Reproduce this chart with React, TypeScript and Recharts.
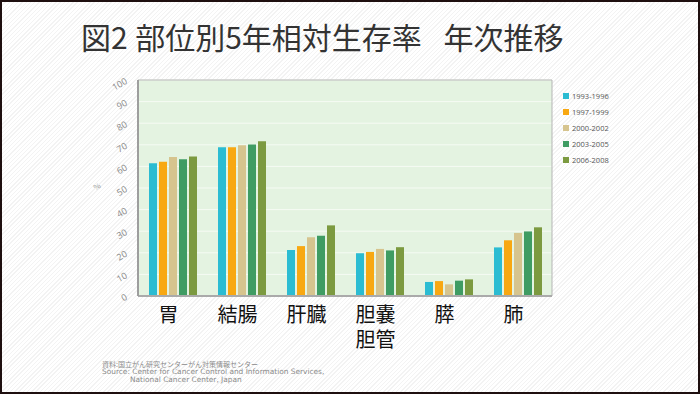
import React from "react";
import { BarChart, Bar, XAxis, YAxis, CartesianGrid, ReferenceArea } from "recharts";

const categories = ["胃", "結腸", "肝臓", "胆嚢\n胆管", "膵", "肺"];
const periods = ["1993-1996", "1997-1999", "2000-2002", "2003-2005", "2006-2008"];
const colors = ["#2bbcd2", "#f8a812", "#d6c48e", "#3f9c63", "#7c9a40"];
const v1993 = [61.5, 68.9, 21.3, 19.8, 6.5, 22.5];
const v1997 = [62.2, 68.9, 23.1, 20.4, 6.9, 25.8];
const v2000 = [64.3, 69.8, 27.2, 21.8, 5.4, 29.2];
const v2003 = [63.3, 70.1, 27.9, 21.1, 7.1, 29.9];
const v2006 = [64.6, 71.6, 32.7, 22.6, 7.7, 31.8];
const yTicks = [0, 10, 20, 30, 40, 50, 60, 70, 80, 90, 100];
const titleText = "図2\u2005部位別5年相対生存率\u2002 年次推移";
const sourceLines = [
  "資料:国立がん研究センターがん対策情報センター",
  "Source: Center for Cancer Control and Information Services,",
  "National Cancer Center, Japan",
];

const series = [v1993, v1997, v2000, v2003, v2006];
const data = categories.map((c, i) => {
  const row: Record<string, string | number> = { name: c };
  periods.forEach((p, k) => {
    row[p] = series[k][i];
  });
  return row;
});

const CJK = '"Noto Sans CJK JP", "Noto Sans", sans-serif';

const XTick = (props: any) => {
  const { x, y, payload } = props;
  const lines = String(payload.value).split("\n");
  return (
    <g>
      {lines.map((l, i) => (
        <text
          key={i}
          x={x - 4}
          y={y + 26 + i * 25}
          textAnchor="middle"
          fontSize={20}
          fontFamily={CJK}
          fill="#111"
        >
          {l}
        </text>
      ))}
    </g>
  );
};

const YTick = (props: any) => {
  const { x, y, payload } = props;
  const ax = x - 2;
  const ay = y + 3;
  return (
    <text
      x={ax}
      y={ay}
      textAnchor="end"
      fontSize={9}
      fontFamily='"Open Sans", "Noto Sans", sans-serif'
      fill="#888"
      transform={`rotate(-30 ${ax} ${ay})`}
    >
      {payload.value}
    </text>
  );
};

const sourceLeft = [102, 102, 130];

export default function App() {
  return (
    <div
      style={{
        position: "absolute",
        left: 0,
        top: 0,
        width: 700,
        height: 394,
        boxSizing: "border-box",
        border: "2px solid #1e0f0f",
        background:
          "repeating-linear-gradient(135deg, #ffffff 0px, #ffffff 2px, #f3f3f3 2px, #f3f3f3 3px)",
        overflow: "hidden",
      }}
    >
      <div
        style={{
          position: "absolute",
          left: 79,
          top: 19,
          fontSize: 30,
          lineHeight: 1,
          fontFamily: CJK,
          color: "#333",
          whiteSpace: "pre",
        }}
      >
        {titleText}
      </div>
      <div style={{ position: "absolute", left: -2, top: -2 }}>
        <BarChart
          width={700}
          height={394}
          data={data}
          margin={{ top: 80, right: 148, bottom: 0, left: 0 }}
          barGap={2}
          barSize={8}
        >
          <CartesianGrid
            vertical={false}
            horizontal
            stroke="#f6fbf4"
            strokeWidth={1}
            fill="#e4f3e1"
            fillOpacity={1}
          />
          <ReferenceArea y1={0} y2={100} fill="none" stroke="#b5b5b5" strokeWidth={1} ifOverflow="visible" />
          <XAxis
            dataKey="name"
            height={98}
            tickSize={0}
            tickMargin={0}
            tick={<XTick />}
            interval={0}
            axisLine={{ stroke: "#aaa", strokeWidth: 2 }}
            tickLine={false}
          />
          <YAxis
            width={138}
            domain={[0, 100]}
            ticks={yTicks}
            interval={0}
            tickSize={6}
            tickMargin={2}
            tick={<YTick />}
            axisLine={{ stroke: "#9e9e9e", strokeWidth: 2 }}
            tickLine={false}
            label={{
              value: "%",
              angle: -30,
              position: "insideLeft",
              offset: 94,
              fontSize: 8,
              fill: "#999",
            }}
          />
          {periods.map((p, k) => (
            <Bar key={p} dataKey={p} fill={colors[k]} isAnimationActive={false} />
          ))}
        </BarChart>
      </div>
      <div style={{ position: "absolute", left: 561, top: 86 }}>
        {periods.map((p, k) => (
          <div
            key={p}
            style={{ display: "flex", alignItems: "center", height: 16, fontFamily: '"Open Sans", sans-serif', fontSize: 7.5, color: "#555" }}
          >
            <span style={{ display: "inline-block", width: 6, height: 6, background: colors[k], marginRight: 3 }} />
            {p}
          </div>
        ))}
      </div>
      {sourceLines.map((l, i) => (
        <div
          key={i}
          style={{
            position: "absolute",
            left: sourceLeft[i] - 2,
            top: 359 + i * 7.4,
            fontSize: i === 0 ? 7 : 7.4,
            lineHeight: "7px",
            fontFamily: i === 0 ? '"Noto Sans CJK JP", sans-serif' : '"DejaVu Sans", sans-serif',
            color: "#8a8a8a",
            whiteSpace: "pre",
          }}
        >
          {l}
        </div>
      ))}
    </div>
  );
}
